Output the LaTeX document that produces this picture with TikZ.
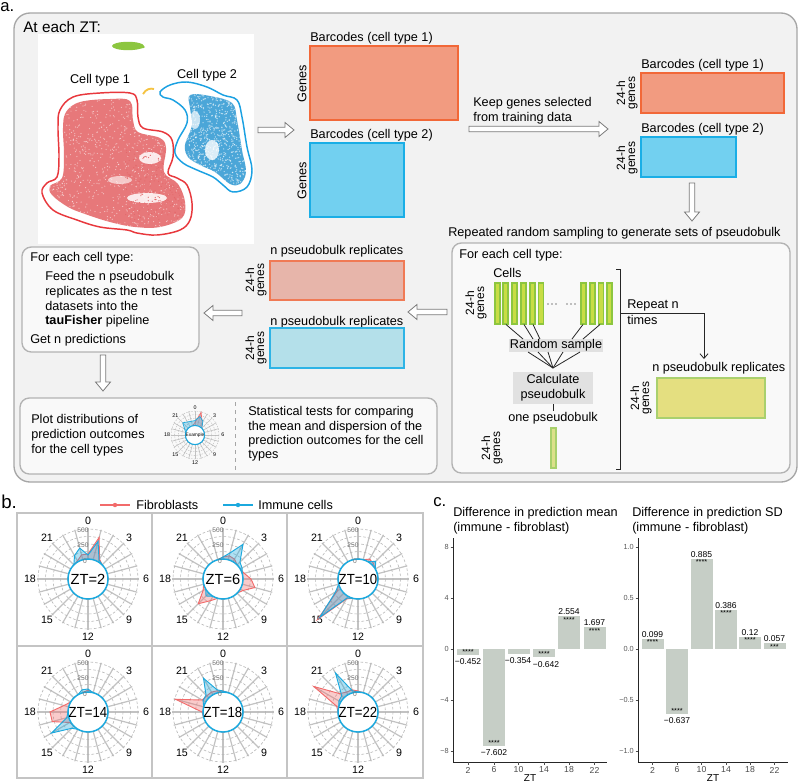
\documentclass[tikz,border=0pt]{standalone}
\usepackage{fontspec}
\setmainfont{Liberation Sans}
\usetikzlibrary{arrows.meta}
\definecolor{outerfill}{HTML}{F2F2F2}
\definecolor{outerdraw}{HTML}{A6A6A6}
\definecolor{subfill}{HTML}{F9F9F9}
\definecolor{subdraw}{HTML}{B3B3B3}
\definecolor{mafill}{HTML}{F29B80}
\definecolor{madraw}{HTML}{F26838}
\definecolor{mbfill}{HTML}{72D0F0}
\definecolor{mbdraw}{HTML}{1AAEE6}
\definecolor{pafill}{HTML}{E7B5AA}
\definecolor{padraw}{HTML}{F07A55}
\definecolor{pbfill}{HTML}{B4E0EA}
\definecolor{pbdraw}{HTML}{2DB4E6}
\definecolor{cellfill}{HTML}{C8DD45}
\definecolor{celldraw}{HTML}{8DC63F}
\definecolor{onefill}{HTML}{DCE08A}
\definecolor{onedraw}{HTML}{A8D06C}
\definecolor{yfill}{HTML}{E4DF80}
\definecolor{ydraw}{HTML}{A9D06E}
\definecolor{grayboxc}{HTML}{E1E1E1}
\definecolor{arrowdraw}{HTML}{7A7A7A}
\definecolor{umapred}{HTML}{E8383D}
\definecolor{umapdot}{HTML}{E4696B}
\definecolor{umapblue}{HTML}{1BA1E2}
\definecolor{umapbdot}{HTML}{1E90CF}
\definecolor{umapgreen}{HTML}{8CC63F}
\definecolor{umapyellow}{HTML}{F5C342}
\definecolor{radred}{HTML}{F26B6B}
\definecolor{radblue}{HTML}{1BA9DE}
\definecolor{spokec}{HTML}{C2C2C2}
\definecolor{gridcol}{HTML}{B8B8B8}
\definecolor{barcol}{HTML}{C6CEC6}
\definecolor{panelcol}{HTML}{C4C4C4}

\newcommand{\hollowarrow}[3]{%
  \draw[harrowc,shift={#1},rotate=#3] (0,-2.8) -- ({#2-9},-2.8) -- ({#2-9},-7.5) -- (#2,0) -- ({#2-9},7.5) -- ({#2-9},2.8) -- (0,2.8) -- cycle;}

\newcommand{\radarplot}[7]{%
  \begin{scope}[shift={#1},scale=#2]
    \foreach \h in {0,...,23}{\draw[spoke] ({\h*15-90}:20) -- ({\h*15-90}:51);}
    \foreach \r in {27.5,35,42.5,50}{\draw[gridcirc] (0,0) circle[radius=\r];}
    \foreach \h in {0,3,...,21}{\node[hourlbl] at ({\h*15-90}:58) {\h};}
    \path[redpoly] ({-90}:{20+#4}) \foreach \v [count=\i] in {#5}{ -- ({\i*15-90}:{20+\v})} -- cycle;
    \path[bluepoly] ({-90}:{20+#6}) \foreach \v [count=\i] in {#7}{ -- ({\i*15-90}:{20+\v})} -- cycle;
    \draw[innerc] (0,0) circle[radius=20];
    \node[vallbl] at (-5,-49) {500};
    \node[vallbl] at (-5,-34) {250};
    \node[vallbl] at (-3,-18) {0};
    \node[ztlbl] at (0,0) {#3};
  \end{scope}}

\newcommand{\posbar}[5]{%
  \fill[barcol] ({#1-11},#2) rectangle ({#1+11},{#2-#3});
  \node[vlbl] at (#1,{#2-#3-4.5}) {#4};
  \node[slbl] at (#1,{#2-#3+3.5}) {#5};}
\newcommand{\negbar}[6]{%
  \fill[barcol] ({#1-11},#2) rectangle ({#1+11},{#2+#3});
  \node[vlbl] at ({#1+#6},{#2+#3+7}) {#4};
  \node[slbl] at (#1,{#2+#3-3}) {#5};}

\begin{document}
\begin{tikzpicture}[x=0.75pt,y=-0.75pt,
  txt/.style={font=\fontsize{9.5}{11.4}\selectfont,inner sep=0pt,anchor=west},
  ctxt/.style={font=\fontsize{9.5}{11.4}\selectfont,inner sep=0pt},
  gtxt/.style={font=\fontsize{9}{7.4}\selectfont,inner sep=0pt,rotate=90,align=center},
  gtxtone/.style={font=\fontsize{9.5}{11}\selectfont,inner sep=0pt,rotate=90},
  harrowc/.style={draw=arrowdraw,fill=white,line width=0.6pt},
  outerbox/.style={draw=outerdraw,fill=outerfill,line width=1pt,rounded corners=12pt},
  subbox/.style={draw=subdraw,fill=subfill,line width=1pt,rounded corners=7pt},
  cellbar/.style={draw=celldraw,fill=cellfill,line width=0.8pt},
  thinline/.style={draw=black!85,line width=0.6pt},
  spoke/.style={draw=spokec,line width=0.9pt},
  gridcirc/.style={draw=gridcol,line width=0.45pt,dash pattern=on 2pt off 1.5pt},
  redpoly/.style={draw=radred,fill=radred,fill opacity=0.35,line width=0.7pt},
  bluepoly/.style={draw=radblue,fill=radblue,fill opacity=0.35,line width=0.7pt},
  innerc/.style={draw=radblue,fill=white,line width=1.1pt},
  hourlbl/.style={font=\fontsize{8}{8}\selectfont,inner sep=0pt},
  vallbl/.style={font=\fontsize{5}{5}\selectfont,text=black!55,inner sep=0pt},
  ztlbl/.style={font=\fontsize{11}{12}\selectfont,inner sep=0pt},
  vlbl/.style={font=\fontsize{6.4}{7}\selectfont,inner sep=0pt},
  slbl/.style={font=\fontsize{5.5}{6}\selectfont,inner sep=0pt},
  ticklbl/.style={font=\fontsize{5.5}{6}\selectfont,text=black!65,inner sep=0pt},
  xticklbl/.style={font=\fontsize{6.5}{7}\selectfont,text=black!70,inner sep=0pt},
  axisl/.style={line width=0.7pt,draw=black!85},
  panelframe/.style={draw=panelcol,line width=0.8pt},
]
\useasboundingbox (0,0) rectangle (800,783);
\fill[white] (0,0) rectangle (800,783);

% ================= panel a =================
\node[anchor=west,inner sep=0pt,font=\fontsize{12.5}{13}\selectfont] (la) at (0,7) {a.};
\draw[outerbox] (14,13) rectangle (797,482);
\node[anchor=west,inner sep=0pt,font=\fontsize{11.5}{13}\selectfont] (atzt) at (23,27) {At each ZT:};

% UMAP
\fill[white] (38,34) rectangle (254,244);
\fill[umapgreen] (128,46) ellipse [x radius=16, y radius=4.2];
\fill[umapgreen] (140,47) ellipse [x radius=5, y radius=1.5];
\draw[umapyellow,line width=1.4pt] (143,94) .. controls (146,89) and (150,88) .. (154,89);
\def\redin{plot[smooth cycle,tension=0.6] coordinates {(66,112) (80,102) (110,99) (130,101) (133,120) (138,132) (160,138) (166,148) (164,172) (178,184) (185,202) (182,218) (160,227) (135,227) (110,222) (85,214) (68,207) (52,195) (50,186) (62,178) (64,155) (63,128)}}
\def\bluein{plot[smooth cycle,tension=0.6] coordinates {(190,95) (210,96) (232,103) (237,120) (242,150) (246,172) (240,184) (230,184) (215,172) (200,165) (188,157) (185,145) (192,125) (190,108)}}
\fill[umapdot!90] \redin;
\fill[umapbdot!80] \bluein;
\pgfmathsetseed{42}
\begin{scope}
  \clip \redin;
  \foreach \i in {1,...,1100}{\fill[white,opacity=0.55] ({46+142*rnd},{96+134*rnd}) circle[radius=0.6];}
  \fill[white,opacity=0.85] (150,158) ellipse [x radius=11, y radius=6];
  \fill[white,opacity=0.85] (147,198) ellipse [x radius=20, y radius=5];
  \fill[white,opacity=0.6] (120,180) ellipse [x radius=12, y radius=4];
  \foreach \i in {1,...,250}{\fill[umapdot] ({125+60*rnd},{150+70*rnd}) circle[radius=0.6];}
\end{scope}
\begin{scope}
  \clip \bluein;
  \foreach \i in {1,...,900}{\fill[white,opacity=0.6] ({183+65*rnd},{93+93*rnd}) circle[radius=0.7];}
  \fill[white,opacity=0.8] (212,150) ellipse [x radius=7, y radius=10];
  \fill[white,opacity=0.7] (195,120) ellipse [x radius=5, y radius=9];
\end{scope}
\draw[umapred,line width=1.1pt] plot[smooth cycle,tension=0.6] coordinates {(60,110) (73,97) (100,93) (130,93) (137,100) (138,117) (143,128) (163,132) (172,140) (173,157) (168,173) (177,178) (187,185) (192,203) (190,220) (180,230) (157,235) (137,233) (127,230) (100,227) (77,220) (53,210) (42,193) (47,183) (57,177) (59,157) (58,127)};
\draw[umapblue,line width=1.1pt] plot[smooth cycle,tension=0.6] coordinates {(160,92) (170,85) (187,82) (207,87) (223,95) (237,100) (242,117) (247,147) (252,170) (247,187) (233,192) (223,185) (213,177) (197,170) (183,163) (175,153) (178,140) (187,123) (185,110) (173,100) (163,97)};
\node[ctxt] (ct1) at (100,80) {Cell type 1};
\node[ctxt] (ct2) at (207,75) {Cell type 2};

\hollowarrow{(258,130)}{36}{0}

% first matrices
\node[txt] (bc1) at (310,38) {Barcodes (cell type 1)};
\draw[fill=mafill,draw=madraw,line width=0.9pt] (310,46) rectangle (458,120);
\node[gtxtone] (g1) at (302,84) {Genes};
\node[txt] (bc2) at (310,135) {Barcodes (cell type 2)};
\draw[fill=mbfill,draw=mbdraw,line width=0.9pt] (310,143) rectangle (404,217);
\node[gtxtone] (g2) at (302,181) {Genes};

\node[txt] (keep1) at (473,103) {Keep genes selected};
\node[txt] (keep2) at (473,118) {from training data};
\hollowarrow{(469,129)}{139}{0}

% second matrices
\node[txt] (bc3) at (641,65) {Barcodes (cell type 1)};
\draw[fill=mafill,draw=madraw,line width=0.9pt] (641,73) rectangle (784,113);
\node[gtxt] (g3) at (627,93) {24-h\\genes};
\node[txt] (bc4) at (641,129) {Barcodes (cell type 2)};
\draw[fill=mbfill,draw=mbdraw,line width=0.9pt] (641,137) rectangle (736,177);
\node[gtxt] (g4) at (627,158) {24-h\\genes};
\hollowarrow{(692,183)}{38}{-90}

\node[txt] (rep) at (448,233) {Repeated random sampling to generate sets of pseudobulk};

% right sub-box
\draw[subbox] (452,243) rectangle (790,473);
\node[txt] (fe2) at (459,255) {For each cell type:};
\node[txt] (cells) at (493,273) {Cells};
\node[gtxt] (g5) at (476,303) {24-h\\genes};
\foreach \xx in {495,503,512,521,530,538.5,581,590,598.5,607}{\draw[cellbar] (\xx,283) rectangle ({\xx+5},324);}
\foreach \xx in {548,552,556,567,571,575}{\fill (\xx,304) circle[radius=0.6];}
\fill[grayboxc] (509,339) rectangle (603,352);
\node[ctxt] (rs) at (556,345.5) {Random sample};
\foreach \a/\b in {506/523,524/533,533/540,583/572,600/583}{\draw[thinline] (\a,324.5) -- (\b,339);}
\coordinate (conv) at (553,368);
\foreach \a in {528,538,548,563,580}{\draw[thinline] (\a,352) -- (conv);}
\fill[grayboxc] (513,372) rectangle (593,404);
\node[ctxt,align=center] (calc) at (553,388) {Calculate\\pseudobulk};
\draw[thinline] (553,404) -- (553,411);
\node[ctxt] (onepb) at (553,418) {one pseudobulk};
\draw[fill=onefill,draw=onedraw,line width=0.9pt] (551,428) rectangle (556,468);
\node[gtxt] (g6) at (492,448) {24-h\\genes};
\draw[thinline] (616,269) -- (620,269) -- (620,469) -- (616,469);
\coordinate (brk) at (620,313);
\coordinate (corner) at (704,313);
\coordinate (ytop) at (704,359);
\draw[thinline,-{Straight Barb[length=3.5pt,width=6pt]}] (brk) -- (corner) -- (ytop);
\node[txt] (rn1) at (627,305) {Repeat n};
\node[txt] (rn2) at (627,320) {times};
\node[txt] (npb3) at (652,368) {n pseudobulk replicates};
\draw[fill=yfill,draw=ydraw,line width=0.9pt] (657,378) rectangle (765,418);
\node[gtxt] (g7) at (641,398) {24-h\\genes};

\hollowarrow{(447,312)}{39}{180}

% middle matrices
\node[txt] (npb1) at (270,251) {n pseudobulk replicates};
\draw[fill=pafill,draw=padraw,line width=0.9pt] (270,261) rectangle (404,300);
\node[gtxt] (g8) at (256,280) {24-h\\genes};
\node[txt] (npb2) at (270,322) {n pseudobulk replicates};
\draw[fill=pbfill,draw=pbdraw,line width=0.9pt] (270,328) rectangle (404,368);
\node[gtxt] (g9) at (256,348) {24-h\\genes};

\hollowarrow{(242,313)}{38}{180}

% left box
\draw[subbox] (22,247) rectangle (199,352);
\node[txt] (l1) at (30,258) {For each cell type:};
\node[txt] (l2) at (45,277) {Feed the n pseudobulk};
\node[txt] (l3) at (45,292) {replicates as the n test};
\node[txt] (l4) at (45,306) {datasets into the};
\node[txt] (l5) at (45,321) {\textbf{tauFisher} pipeline};
\node[txt] (l6) at (30,340) {Get n predictions};

\hollowarrow{(103,355)}{36}{-90}

% bottom box
\draw[subbox] (20,398) rectangle (437,474);
\node[txt] (p1) at (31,419) {Plot distributions of};
\node[txt] (p2) at (31,435) {prediction outcomes};
\node[txt] (p3) at (31,450) {for the cell types};
\begin{scope}[hourlbl/.style={font=\fontsize{4}{4}\selectfont,inner sep=0pt},
  vallbl/.style={text opacity=0,inner sep=0pt,font=\fontsize{3}{3}\selectfont},
  ztlbl/.style={font=\fontsize{3.6}{4}\selectfont,inner sep=0pt},
  spoke/.style={draw=spokec,line width=0.5pt},
  gridcirc/.style={draw=gridcol,line width=0.3pt,dash pattern=on 1pt off 1pt},
  innerc/.style={draw=radblue,fill=white,line width=0.8pt},
  redpoly/.style={draw=radred,fill=radred,fill opacity=0.35,line width=0.5pt},
  bluepoly/.style={draw=radblue,fill=radblue,fill opacity=0.35,line width=0.5pt}]
\radarplot{(195,435)}{0.48}{Example}{6}{29,10,0,0,0,0,0,0,0,0,0,0,0,0,0,0,0,0,0,0,0,0,0}{10}{20,13,0,0,0,0,0,0,0,0,0,0,0,0,0,0,0,0,0,5,16}
\end{scope}
\draw[gray!70,line width=0.5pt,dash pattern=on 3pt off 3pt] (235,402) -- (235,471);
\node[txt] (s1) at (248,412) {Statistical tests for comparing};
\node[txt] (s2) at (248,427) {the mean and dispersion of the};
\node[txt] (s3) at (248,441) {prediction outcomes for the cell};
\node[txt] (s4) at (248,456) {types};

% ================= panel b =================
\node[anchor=west,inner sep=0pt,font=\fontsize{14}{15}\selectfont] (lb) at (1,502) {b.};
\draw[radred,line width=1.3pt] (100,505) -- (130,505);
\fill[radred] (115,505) circle[radius=2.2];
\node[txt] (fib) at (136,505) {Fibroblasts};
\draw[radblue,line width=1.3pt] (223,505) -- (253,505);
\fill[radblue] (238,505) circle[radius=2.2];
\node[txt] (imm) at (258,505) {Immune cells};

\draw[panelframe] (17,513) rectangle (423,778);
\draw[panelframe] (152,513) -- (152,778);
\draw[panelframe] (287,513) -- (287,778);
\draw[panelframe] (17,646) -- (423,646);

\radarplot{(88,579)}{1}{ZT=2}{5}{23,3,0,0,0,0,0,0,0,0,0,0,0,0,0,0,0,0,0,0,0,1,5}{4}{19,2,0,0,0,0,0,0,0,0,0,0,0,0,0,0,0,0,0,0,0,7,12}
\radarplot{(223,579)}{1}{ZT=6}{2}{4,3,0,0,2,8,13,3,0,0,0,0,0,5,15,3,0,0,0,0,0,0,0}{2}{7,20,4,2,0,0,0,0,0,0,0,0,0,0,4,0,0,0,0,0,0,0,0}
\radarplot{(358,579)}{1}{\scalebox{0.9}[1]{ZT=10}}{0}{0,3,2,0,0,0,0,0,0,0,0,0,0,3,37,4,0,0,0,0,0,0,0}{0}{0,0,5,0,0,0,0,0,0,0,0,0,0,2,34,6,0,0,0,0,0,0,0}
\radarplot{(88,712)}{1}{\scalebox{0.9}[1]{ZT=14}}{2}{0,0,0,0,0,0,0,0,0,0,0,0,0,0,0,1,17,18,5,0,0,0,0}{3}{0,0,0,0,0,0,0,0,0,0,0,0,0,0,3,22,2,0,0,0,0,0,3}
\radarplot{(223,712)}{1}{\scalebox{0.9}[1]{ZT=18}}{1}{0,0,0,0,0,0,0,0,0,0,0,0,0,0,0,0,0,1,29,4,3,3,2}{1}{0,0,0,0,0,0,0,0,0,0,0,0,0,0,0,0,0,0,0,3,4,19,3}
\radarplot{(358,712)}{1}{\scalebox{0.9}[1]{ZT=22}}{1}{0,0,0,0,0,0,0,0,0,0,0,0,0,0,0,0,0,0,2,31,6,3,3}{0}{0,0,0,0,0,0,0,0,0,0,0,0,0,0,0,0,0,0,0,2,3,25,2}

% ================= panel c =================
\node[anchor=west,inner sep=0pt,font=\fontsize{12.5}{13}\selectfont] (lc) at (433,502) {c.};
\node[txt] (t1a) at (453,513) {Difference in prediction mean};
\node[txt] (t1b) at (453,528) {(immune - fibroblast)};
\node[txt] (t2a) at (632,513) {Difference in prediction SD};
\node[txt] (t2b) at (632,528) {(immune - fibroblast)};

% left chart
\negbar{468}{649}{5.76}{−0.452}{****}{0}
\negbar{494}{649}{96.93}{−7.602}{****}{0}
\negbar{518.5}{649}{4.51}{−0.354}{}{-0.5}
\negbar{544}{649}{8.19}{−0.642}{****}{2}
\posbar{569}{649}{32.56}{2.554}{****}
\posbar{594.5}{649}{21.64}{1.697}{****}
\draw[axisl] (453,538) -- (453,762) -- (607,762);
\foreach \yy/\ll in {547/8,598/4,649/0,700/−4,751/−8}{
  \draw[black!70,line width=0.4pt] (450.5,\yy) -- (453,\yy);
  \node[ticklbl,anchor=east] at (449,\yy) {\ll};}
\foreach \xx/\ll in {468/2,494/6,518.5/10,544/14,569/18,594.5/22}{
  \draw[black!70,line width=0.4pt] (\xx,762) -- (\xx,764.5);
  \node[xticklbl] at (\xx,770) {\ll};}
\node[inner sep=0pt,font=\fontsize{7.5}{8}\selectfont] (zt1) at (530,778.5) {ZT};

% right chart
\posbar{652.5}{649}{10.1}{0.099}{****}
\negbar{677}{649}{64.97}{−0.637}{****}{0}
\posbar{701.5}{649}{90.27}{0.885}{****}
\posbar{726}{649}{39.37}{0.386}{****}
\posbar{750}{649}{12.24}{0.12}{****}
\posbar{774.5}{649}{5.81}{0.057}{***}
\draw[axisl] (638,538) -- (638,762) -- (788,762);
\foreach \yy/\ll in {547/1.0,598/0.5,649/0.0,700/−0.5,751/−1.0}{
  \draw[black!70,line width=0.4pt] (635.5,\yy) -- (638,\yy);
  \node[ticklbl,anchor=east] at (634,\yy) {\ll};}
\foreach \xx/\ll in {652.5/2,677/6,701.5/10,726/14,750/18,774.5/22}{
  \draw[black!70,line width=0.4pt] (\xx,762) -- (\xx,764.5);
  \node[xticklbl] at (\xx,770) {\ll};}
\node[inner sep=0pt,font=\fontsize{7.5}{8}\selectfont] (zt2) at (713,778.5) {ZT};
\end{tikzpicture}
\end{document}
